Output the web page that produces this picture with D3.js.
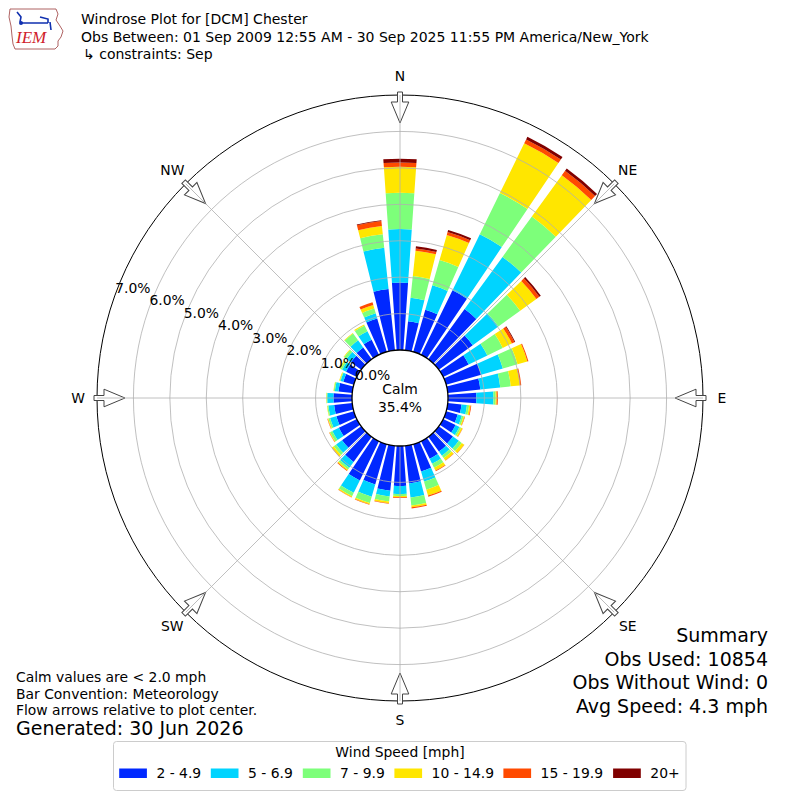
<!DOCTYPE html>
<html>
<head>
<meta charset="utf-8">
<script src="https://cdn.jsdelivr.net/npm/d3@7"></script>
<style>
  body { margin: 0; background: #fff; }
  svg { font-family: 'DejaVu Sans', sans-serif; }
</style>
</head>
<body>
<svg width="800" height="800"></svg>
<script>
/* global d3 */
var directions = [0, 10, 20, 30, 40, 50, 60, 70, 80, 90, 100, 110, 120, 130, 140, 150, 160, 170,
  180, 190, 200, 210, 220, 230, 240, 250, 260, 270, 280, 290, 300, 310, 320, 330, 340, 350];

// percent of obs per direction, per speed bin (mph)
var speed2to5 = [1.85, 0.80, 1.20, 1.97, 1.70, 1.15, 0.78, 1.00, 0.90, 0.78, 0.38, 0.33, 0.38, 0.48, 0.50, 0.54, 0.78, 1.04,
  1.10, 1.24, 1.15, 1.20, 0.85, 0.65, 0.55, 0.50, 0.50, 0.51, 0.38, 0.30, 0.33, 0.35, 0.40, 0.46, 0.95, 1.69];
var speed5to7 = [1.47, 0.65, 0.70, 1.71, 1.77, 0.87, 0.57, 0.62, 0.55, 0.47, 0.15, 0.12, 0.12, 0.20, 0.14, 0.15, 0.29, 0.39,
  0.22, 0.16, 0.35, 0.38, 0.20, 0.20, 0.20, 0.18, 0.16, 0.17, 0.10, 0.08, 0.12, 0.15, 0.24, 0.26, 0.15, 1.14];
var speed7to10 = [1.00, 0.60, 0.72, 1.26, 1.37, 0.74, 0.47, 0.42, 0.29, 0.06, 0.06, 0.05, 0.05, 0.10, 0.08, 0.12, 0.23, 0.22,
  0.05, 0.14, 0.18, 0.10, 0.06, 0.08, 0.07, 0.05, 0.03, 0.02, 0.03, 0.02, 0.05, 0.08, 0.23, 0.18, 0.14, 0.37];
var speed10to15 = [0.71, 0.70, 0.72, 1.52, 1.40, 0.55, 0.28, 0.28, 0.25, 0.03, 0.04, 0.03, 0.04, 0.08, 0.08, 0.09, 0.17, 0.05,
  0.04, 0.05, 0.04, 0.03, 0.03, 0.06, 0.02, 0.02, 0.01, 0.01, 0.01, 0.02, 0.03, 0.02, 0.02, 0.03, 0.10, 0.23];
var speed15to20 = [0.12, 0.06, 0.08, 0.12, 0.15, 0.10, 0.08, 0.03, 0.04, 0.03, 0.02, 0.01, 0.01, 0.01, 0.01, 0.02, 0.03, 0.03,
  0.02, 0.01, 0.01, 0.01, 0.02, 0.01, 0.01, 0.01, 0, 0, 0, 0, 0, 0, 0, 0, 0.08, 0.14];
var speed20plus = [0.10, 0.06, 0.06, 0.08, 0.08, 0.05, 0.02, 0, 0, 0, 0, 0, 0, 0, 0, 0, 0, 0,
  0, 0, 0, 0, 0, 0, 0, 0, 0, 0, 0, 0, 0, 0, 0, 0, 0, 0.02];

var binLabels = ['2 - 4.9', '5 - 6.9', '7 - 9.9', '10 - 14.9', '15 - 19.9', '20+'];
var radialTicks = [0, 1, 2, 3, 4, 5, 6, 7];
var compassLabels = ['N', 'NE', 'E', 'SE', 'S', 'SW', 'W', 'NW'];
var compassAngles = [0, 45, 90, 135, 180, 225, 270, 315];
var calmPercent = 35.4;

var titleLines = ['Windrose Plot for [DCM] Chester',
  'Obs Between: 01 Sep 2009 12:55 AM - 30 Sep 2025 11:55 PM America/New_York',
  '\u21b3 constraints: Sep'];
var noteLines = ['Calm values are < 2.0 mph', 'Bar Convention: Meteorology', 'Flow arrows relative to plot center.'];
var generatedText = 'Generated: 30 Jun 2026';
var summaryLines = ['Summary', 'Obs Used: 10854', 'Obs Without Wind: 0', 'Avg Speed: 4.3 mph'];

function drawRose() {
  'use strict';
  var svg = d3.select('svg');
  var cx = 400, cy = 398;
  var calmR = 48, outerR = 303;

  var series = [speed2to5, speed5to7, speed7to10, speed10to15, speed15to20, speed20plus];
  var rows = directions.map(function (d, i) {
    var row = {dir: d};
    binLabels.forEach(function (b, j) { row[b] = series[j][i]; });
    return row;
  });
  var stacked = d3.stack().keys(binLabels)(rows);

  var r = d3.scaleLinear().domain([0, 7]).range([calmR, outerR]);
  var ang = d3.scaleLinear().domain([0, 360]).range([0, 2 * Math.PI]);
  var color = d3.scaleOrdinal().domain(binLabels)
    .range(['#0028ff', '#00d4ff', '#7dff7a', '#ffe600', '#ff4a00', '#800000']);

  var g = svg.append('g').attr('transform', 'translate(' + [cx, cy] + ')');

  var arc = d3.arc()
    .innerRadius(function (d) { return r(d[0]); })
    .outerRadius(function (d) { return r(d[1]); })
    .startAngle(function (d) { return ang(d.data.dir - 4); })
    .endAngle(function (d) { return ang(d.data.dir + 4); });

  g.selectAll('g.layer')
    .data(stacked)
    .enter()
    .append('g')
    .attr('class', 'layer')
    .attr('fill', function (d) { return color(d.key); })
    .selectAll('path')
    .data(function (d) { return d.filter(function (v) { return v[1] > v[0]; }); })
    .enter()
    .append('path')
    .attr('d', arc);

  // grid
  g.selectAll('circle.ring')
    .data(radialTicks.slice(1, -1))
    .enter()
    .append('circle')
    .attr('class', 'ring')
    .attr('r', function (d) { return r(d); })
    .attr('fill', 'none')
    .attr('stroke', '#b0b0b0')
    .attr('stroke-width', 0.8);

  g.selectAll('line.spoke')
    .data(compassAngles)
    .enter()
    .append('line')
    .attr('class', 'spoke')
    .attr('x1', function (d) { return calmR * Math.sin(ang(d)); })
    .attr('y1', function (d) { return -calmR * Math.cos(ang(d)); })
    .attr('x2', function (d) { return outerR * Math.sin(ang(d)); })
    .attr('y2', function (d) { return -outerR * Math.cos(ang(d)); })
    .attr('stroke', '#b0b0b0')
    .attr('stroke-width', 0.8);

  g.append('circle')
    .attr('r', r(7))
    .attr('fill', 'none')
    .attr('stroke', '#000')
    .attr('stroke-width', 1);

  // calm
  g.append('circle')
    .attr('r', calmR)
    .attr('fill', '#fff')
    .attr('stroke', '#000')
    .attr('stroke-width', 1.3);
  g.append('text')
    .attr('text-anchor', 'middle')
    .attr('y', -4)
    .style('font-size', '13.9px')
    .text('Calm');
  g.append('text')
    .attr('text-anchor', 'middle')
    .attr('y', 14)
    .style('font-size', '13.9px')
    .text(calmPercent.toFixed(1) + '%');

  // flow arrows
  var arrowPath = 'M -2.5,-306 L 2.5,-306 L 2.5,-296 L 8.8,-296 L 0,-275 L -8.8,-296 L -2.5,-296 Z';
  g.selectAll('path.arrow')
    .data(compassAngles)
    .enter()
    .append('path')
    .attr('class', 'arrow')
    .attr('d', arrowPath)
    .attr('transform', function (d) { return 'rotate(' + d + ')'; })
    .attr('fill', '#fff')
    .attr('stroke', '#444')
    .attr('stroke-width', 1);
  g.selectAll('line.arrowgrid')
    .data(compassAngles)
    .enter()
    .append('line')
    .attr('class', 'arrowgrid')
    .attr('y1', -outerR)
    .attr('y2', -275)
    .attr('transform', function (d) { return 'rotate(' + d + ')'; })
    .attr('stroke', '#b0b0b0')
    .attr('stroke-width', 0.8);

  g.selectAll('text.compass')
    .data(compassLabels)
    .enter()
    .append('text')
    .attr('class', 'compass')
    .attr('x', function (d, i) { return 322 * Math.sin(ang(compassAngles[i])); })
    .attr('y', function (d, i) { return -322 * Math.cos(ang(compassAngles[i])); })
    .attr('dy', '0.35em')
    .attr('text-anchor', 'middle')
    .style('font-size', '13.9px')
    .text(function (d) { return d; });

  // radial labels
  g.selectAll('text.rlabel')
    .data(radialTicks)
    .enter()
    .append('text')
    .attr('class', 'rlabel')
    .attr('x', function (d) { return r(d) * Math.sin(ang(290)); })
    .attr('y', function (d) { return -r(d) * Math.cos(ang(290)) - 6.5; })
    .attr('dy', '0.35em')
    .style('font-size', '13.9px')
    .text(function (d) { return d.toFixed(1) + '%'; });

  // header
  svg.selectAll('text.title')
    .data(titleLines)
    .enter()
    .append('text')
    .attr('class', 'title')
    .attr('x', function (d, i) { return i === 2 ? 83 : 81; })
    .attr('y', function (d, i) { return 24 + i * 17.5; })
    .style('font-size', '14px')
    .text(function (d) { return d; });

  // logo
  var logo = svg.append('g');
  logo.append('path')
    .attr('d', 'M 10,9 L 56,9 L 58,14 L 56,20 L 60,26 L 63,31 L 61,37 L 58,41 L 58,46 L 55,49 L 15,49 L 13,44 L 12,36 L 11,26 L 9,17 Z')
    .attr('fill', 'none')
    .attr('stroke', '#9b3b3b')
    .attr('stroke-width', 0.8);
  logo.append('path')
    .attr('d', 'M 17,12 L 21,17 L 20,22 M 20,23 L 48,23 M 40,17 L 48,19 L 48,23 M 50,22 L 51,30')
    .attr('fill', 'none')
    .attr('stroke', '#1030b0')
    .attr('stroke-width', 1.6);
  logo.append('circle').attr('cx', 21).attr('cy', 23).attr('r', 2).attr('fill', '#1030b0');
  logo.append('text')
    .attr('x', 16)
    .attr('y', 43)
    .style('font-family', '"Liberation Serif", serif')
    .style('font-style', 'italic')
    .style('font-size', '17px')
    .attr('fill', '#d0202a')
    .text('IEM');

  // notes
  svg.selectAll('text.note')
    .data(noteLines)
    .enter()
    .append('text')
    .attr('class', 'note')
    .attr('x', 16)
    .attr('y', function (d, i) { return 682 + i * 16.5; })
    .style('font-size', '13.9px')
    .text(function (d) { return d; });
  svg.append('text')
    .attr('x', 16)
    .attr('y', 735)
    .style('font-size', '19px')
    .text(generatedText);

  svg.selectAll('text.summary')
    .data(summaryLines)
    .enter()
    .append('text')
    .attr('class', 'summary')
    .attr('x', 768)
    .attr('y', function (d, i) { return 642 + i * 23.7; })
    .attr('text-anchor', 'end')
    .style('font-size', '19px')
    .text(function (d) { return d; });

  // legend
  var legend = svg.append('g');
  legend.append('rect')
    .attr('x', 113.5).attr('y', 741.5).attr('width', 572.5).attr('height', 49)
    .attr('rx', 3)
    .attr('fill', '#fff')
    .attr('stroke', '#cccccc')
    .attr('stroke-width', 1);
  legend.append('text')
    .attr('x', 400).attr('y', 752)
    .attr('dy', '0.35em')
    .attr('text-anchor', 'middle')
    .style('font-size', '13.9px')
    .text('Wind Speed [mph]');
  var legendX = [119.2, 210.8, 302.8, 394.4, 503.4, 613.1];
  var items = legend.selectAll('g.item')
    .data(binLabels)
    .enter()
    .append('g')
    .attr('class', 'item')
    .attr('transform', function (d, i) { return 'translate(' + [legendX[i], 768.5] + ')'; });
  items.append('rect')
    .attr('width', 27.7).attr('height', 9.5)
    .attr('fill', function (d) { return color(d); });
  items.append('text')
    .attr('x', 37.2).attr('y', 5)
    .attr('dy', '0.35em')
    .style('font-size', '13.9px')
    .text(function (d) { return d; });
}

drawRose();
</script>
</body>
</html>
